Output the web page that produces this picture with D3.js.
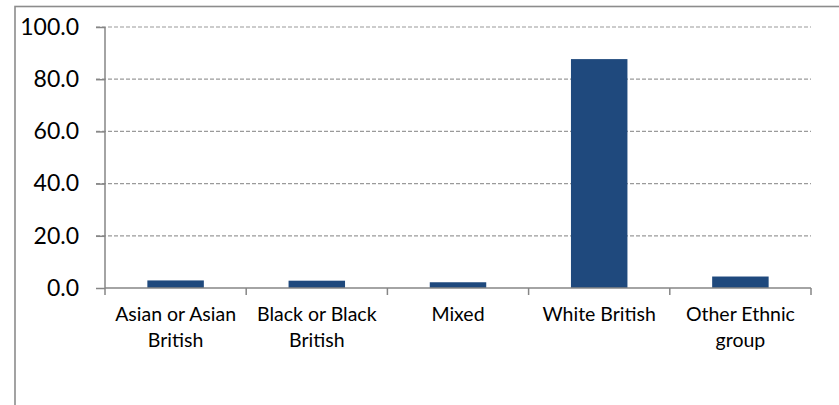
<!DOCTYPE html>
<html>
<head>
<meta charset="utf-8">
<script src="https://cdn.jsdelivr.net/npm/d3@7"></script>
<style>
  body { margin: 0; background: #fff; }
  svg { display: block; font-family: Lato, "Open Sans", sans-serif; }
</style>
</head>
<body>
<svg id="chart" width="839" height="405"></svg>
<script>
const categories = [
  ["Asian or Asian", "British"],
  ["Black or Black", "British"],
  ["Mixed"],
  ["White British"],
  ["Other Ethnic", "group"],
];
const values = [2.9, 2.8, 2.2, 87.7, 4.4];
const yTicks = [0, 20, 40, 60, 80, 100];

const svg = d3.select("#chart");
const plotLeft = 105, plotRight = 811, plotTop = 27, plotBottom = 288;

// outer chart border (clipped by the window at right/bottom)
svg.append("rect")
  .attr("x", 15).attr("y", 6.5)
  .attr("width", 900).attr("height", 500)
  .attr("fill", "none")
  .attr("stroke", "#8c8c8c")
  .attr("stroke-width", 1.6);

const x = d3.scaleBand()
  .domain(d3.range(categories.length))
  .range([plotLeft, plotRight])
  .paddingInner(0.6)
  .paddingOuter(0.3);

const y = d3.scaleLinear().domain([0, 100]).range([plotBottom, plotTop]);

// gridlines
svg.append("g")
  .selectAll("line")
  .data(yTicks.filter(d => d > 0))
  .join("line")
  .attr("x1", plotLeft - 9).attr("x2", plotRight)
  .attr("y1", d => y(d)).attr("y2", d => y(d))
  .attr("stroke", "#9a9a9a")
  .attr("stroke-width", 1.2)
  .attr("stroke-dasharray", "4,2");

// bars
svg.append("g")
  .selectAll("rect")
  .data(values)
  .join("rect")
  .attr("x", (d, i) => x(i))
  .attr("width", x.bandwidth())
  .attr("y", d => y(d))
  .attr("height", d => y(0) - y(d))
  .attr("fill", "#1f497d");

// y axis
const yAxis = svg.append("g")
  .attr("transform", `translate(${plotLeft},0)`)
  .call(d3.axisLeft(y).tickValues(yTicks).tickSize(9).tickPadding(17)
    .tickFormat(d3.format(".1f")));
yAxis.select(".domain").attr("stroke", "#868686").attr("stroke-width", 1.5)
  .attr("d", `M0,${plotTop}V${plotBottom}`);
yAxis.selectAll(".tick line").attr("stroke", "#868686").attr("stroke-width", 1.5);
yAxis.selectAll(".tick text")
  .attr("font-size", 23).attr("fill", "#000")
  .attr("font-family", "Lato, sans-serif");

// x axis
const boundaries = d3.range(categories.length + 1)
  .map(i => plotLeft + i * (plotRight - plotLeft) / categories.length);
svg.append("line")
  .attr("x1", plotLeft).attr("x2", plotRight)
  .attr("y1", plotBottom).attr("y2", plotBottom)
  .attr("stroke", "#868686").attr("stroke-width", 1.5);
svg.append("g")
  .selectAll("line")
  .data(boundaries)
  .join("line")
  .attr("x1", d => d).attr("x2", d => d)
  .attr("y1", plotBottom).attr("y2", plotBottom + 7)
  .attr("stroke", "#868686").attr("stroke-width", 1.5);

// category labels
svg.append("g")
  .selectAll("text")
  .data(categories)
  .join("text")
  .attr("x", (d, i) => x(i) + x.bandwidth() / 2)
  .attr("y", 321)
  .attr("text-anchor", "middle")
  .attr("font-size", 19.5)
  .attr("fill", "#000")
  .selectAll("tspan")
  .data(d => d)
  .join("tspan")
  .attr("x", function () { return this.parentNode.getAttribute("x"); })
  .attr("dy", (d, i) => i === 0 ? 0 : 26)
  .text(d => d);
</script>
</body>
</html>
